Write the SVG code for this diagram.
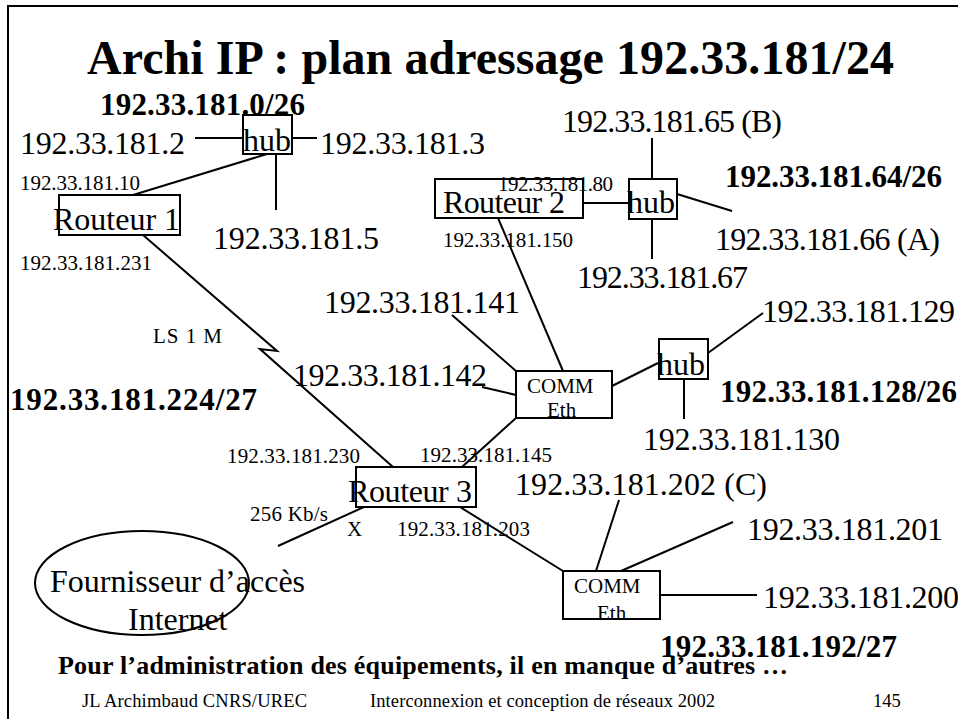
<svg xmlns="http://www.w3.org/2000/svg" width="958" height="719" viewBox="0 0 958 719">
<style>
text{font-family:"Liberation Serif","Times New Roman",serif;fill:#000}
.t{font-size:48px;font-weight:bold}
.big{font-size:32px}
.sm{font-size:21px}
.bold{font-size:31px;font-weight:bold}
.box{fill:#fff;stroke:#000;stroke-width:2}
.comm{font-size:21px}
.foot{font-size:18.5px}
.note{font-size:26px;font-weight:bold}
#connectors line,#connectors polyline{stroke:#000;stroke-width:2;fill:none}
</style>
<rect x="8" y="6" width="960" height="720" fill="#fff" stroke="#000" stroke-width="2"/>
<text class="t" x="87" y="74" textLength="807">Archi IP : plan adressage 192.33.181/24</text>

<g id="connectors">
<line x1="195" y1="138" x2="243" y2="138"/>
<line x1="292" y1="138" x2="317" y2="138"/>
<line x1="276" y1="154" x2="276" y2="210"/>
<line x1="267" y1="154" x2="133" y2="195"/>
<polyline points="143,235 277,351 260,349 393,467"/>
<line x1="583" y1="203" x2="629" y2="203"/>
<line x1="652" y1="138" x2="652" y2="179"/>
<line x1="652" y1="219" x2="652" y2="259"/>
<line x1="677" y1="194" x2="732" y2="211"/>
<line x1="498" y1="218" x2="563" y2="371"/>
<line x1="516" y1="371" x2="452" y2="315"/>
<line x1="516" y1="395" x2="482" y2="387"/>
<line x1="516" y1="418" x2="462" y2="467"/>
<line x1="612" y1="386" x2="658" y2="363"/>
<line x1="708" y1="353" x2="763" y2="313"/>
<line x1="684" y1="379" x2="684" y2="419"/>
<line x1="364" y1="507" x2="278" y2="546"/>
<line x1="460" y1="507" x2="563" y2="571"/>
<line x1="596" y1="571" x2="619" y2="500"/>
<line x1="621" y1="571" x2="733" y2="522"/>
<line x1="660" y1="595" x2="757" y2="595"/>
</g>

<g id="hub1"><rect class="box" x="243" y="115" width="49" height="39"/><text class="big" x="243" y="151">hub</text></g>
<g id="routeur1"><rect class="box" x="59" y="195" width="121" height="40"/><text class="big" x="53" y="230">Routeur 1</text></g>
<g id="routeur2"><rect class="box" x="435" y="179" width="148" height="39"/><text class="big" x="443" y="213" textLength="122">Routeur 2</text></g>
<g id="hub2"><rect class="box" x="629" y="179" width="48" height="40"/><text class="big" x="627" y="213">hub</text></g>
<g id="comm1"><rect class="box" x="516" y="371" width="96" height="47"/><text class="comm" x="527" y="393">COMM</text><text class="comm" x="547" y="417">Eth</text></g>
<g id="hub3"><rect class="box" x="659" y="339" width="49" height="40"/><text class="big" x="657" y="375">hub</text></g>
<g id="routeur3"><rect class="box" x="356" y="467" width="120" height="40"/><text class="big" x="348" y="502" textLength="124">Routeur 3</text></g>
<g id="comm2"><rect class="box" x="563" y="571" width="97" height="48"/><text class="comm" x="574" y="593">COMM</text><text class="comm" x="597" y="620">Eth</text></g>
<g id="isp"><ellipse cx="142" cy="583" rx="107" ry="52" fill="#fff" stroke="#000" stroke-width="2"/><text class="big" x="50" y="592">Fournisseur d’accès</text><text class="big" x="128" y="630">Internet</text></g>

<g id="labels">
<text class="bold" x="100" y="115" textLength="205">192.33.181.0/26</text>
<text class="bold" x="725" y="187" textLength="217">192.33.181.64/26</text>
<text class="bold" x="10" y="410" textLength="247">192.33.181.224/27</text>
<text class="bold" x="720" y="402" textLength="237">192.33.181.128/26</text>
<text class="bold" x="660" y="657" textLength="237">192.33.181.192/27</text>

<text class="big" x="20" y="154" textLength="165">192.33.181.2</text>
<text class="big" x="320" y="154" textLength="165">192.33.181.3</text>
<text class="big" x="213" y="249" textLength="166">192.33.181.5</text>
<text class="big" x="562" y="132" textLength="220">192.33.181.65 (B)</text>
<text class="big" x="715" y="250" textLength="225">192.33.181.66 (A)</text>
<text class="big" x="577" y="288" textLength="171">192.33.181.67</text>
<text class="big" x="324" y="313" textLength="196">192.33.181.141</text>
<text class="big" x="293" y="386" textLength="194">192.33.181.142</text>
<text class="big" x="762" y="322" textLength="193">192.33.181.129</text>
<text class="big" x="643" y="450" textLength="197">192.33.181.130</text>
<text class="big" x="515" y="495" textLength="252">192.33.181.202 (C)</text>
<text class="big" x="747" y="540" textLength="196">192.33.181.201</text>
<text class="big" x="763" y="608" textLength="196">192.33.181.200</text>

<text class="sm" x="20" y="190" textLength="120">192.33.181.10</text>
<text class="sm" x="20" y="270" textLength="132">192.33.181.231</text>
<text class="sm" x="498" y="191" textLength="115">192.33.181.80</text>
<text class="sm" x="443" y="247" textLength="130">192.33.181.150</text>
<text class="sm" x="153" y="343" textLength="69">LS 1 M</text>
<text class="sm" x="227" y="463" textLength="133">192.33.181.230</text>
<text class="sm" x="420" y="462" textLength="132">192.33.181.145</text>
<text class="sm" x="250" y="521" textLength="78">256 Kb/s</text>
<text class="sm" x="347" y="536">X</text>
<text class="sm" x="397" y="536" textLength="133">192.33.181.203</text>

<text class="note" x="58" y="674" textLength="730">Pour l’administration des équipements, il en manque d’autres …</text>
<text class="foot" x="82" y="707" textLength="225">JL Archimbaud CNRS/UREC</text>
<text class="foot" x="370" y="707" textLength="345">Interconnexion et conception de réseaux 2002</text>
<text class="foot" x="873" y="707">145</text>
</g>
</svg>
